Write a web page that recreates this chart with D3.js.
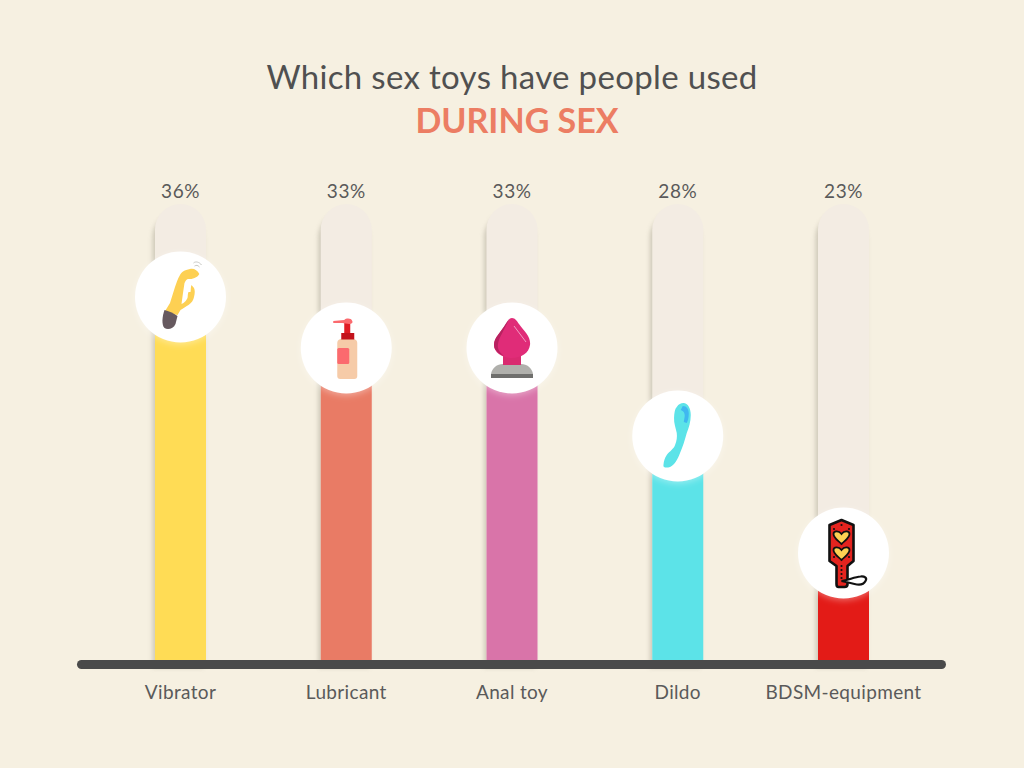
<!DOCTYPE html>
<html><head><meta charset="utf-8">
<script src="https://cdn.jsdelivr.net/npm/d3@7"></script>
<style>html,body{margin:0;padding:0;background:#f6f0e1}svg{display:block}text{font-family:Lato,sans-serif}</style>
</head><body><div id="c"></div>
<script>
const categories = ["Vibrator","Lubricant","Anal toy","Dildo","BDSM-equipment"];
const values = [36,33,33,28,23];
const barColors = ["#ffdc55","#e97b65","#d974a9","#5ce3e8","#e31b17"];
const iconNames = ["vibrator","lube","plug","dildo","paddle"];
// The source graphic is not linear in value: fill tops follow these anchor pairs.
const scaleValues = [23,28,33,36];
const scaleTops = [553,436,348,297];

const W=1024,H=768,base=660,trackTop=204,bw=51,r=45.5;
const svg=d3.select("#c").append("svg").attr("width",W).attr("height",H);
svg.append("rect").attr("width",W).attr("height",H).attr("fill","#f6f0e1");
const defs=svg.append("defs");
const sf=defs.append("filter").attr("id","ts").attr("x","-30%").attr("y","-10%").attr("width","160%").attr("height","120%");
sf.append("feGaussianBlur").attr("stdDeviation",2);
const cf=defs.append("filter").attr("id","cs").attr("x","-20%").attr("y","-20%").attr("width","140%").attr("height","140%");
cf.append("feDropShadow").attr("dx",0).attr("dy",2).attr("stdDeviation",3).attr("flood-color","#fff").attr("flood-opacity",.35);

const x=d3.scalePoint().domain(categories).range([180.5,843.5]);
const y=d3.scaleLinear().domain(scaleValues).range(scaleTops);

svg.append("text").attr("x",512).attr("y",89).attr("text-anchor","middle").attr("font-size",33).attr("letter-spacing",.33).attr("fill","#505050").text("Which sex toys have people used");
svg.append("text").attr("x",517).attr("y",133).attr("text-anchor","middle").attr("font-size",34).attr("font-weight",700).attr("fill","#ec7d63").text("DURING SEX");

const icons={
 vibrator(g){
  g.append("path").attr("fill","#fdd053").attr("d","M18.8,-23 C17,-27 13,-29 9.5,-28 C4,-27 1,-25 -0.5,-22 C-3,-18 -4,-14 -5.5,-10 L-10.5,6 L-16,15 L-3,18 L0,13 C3,11 5,10 8,8 C11,6 13,3 13.5,0 C14.5,-4 14.5,-7 13.5,-9 L11,-12 C10,-10 10.5,-7 10,-5 L8,-5 C7,-3 7.5,-1 7,1 C6,3 4.5,5 3,6 L1,7 L2.5,-4 L4,-14 C5,-16 6,-18 8,-18 C10,-18 12,-18 14,-19 C16,-20 18,-21 18.8,-23Z");
  g.append("path").attr("fill","#66595f").attr("d","M-16,13 C-12,14 -7,16 -3,19 L-5,27 C-7,32 -13,33 -16,31 C-19,28 -18.5,20 -16,13Z");
  g.append("path").attr("fill","none").attr("stroke","#c8c8c4").attr("stroke-width",1).attr("d","M13,-34 C15,-36 19,-35 21,-32 M14,-31 C16,-32 17,-32 19,-30");
 },
 lube(g){
  g.append("path").attr("fill","#f6cba8").attr("d","M-6,-9 Q-9,-8 -9,-5 L-9,28 Q-9,31 -6,31 L8,31 Q11,31 11,28 L11,-5 Q11,-8 8,-9Z");
  g.append("rect").attr("x",-9).attr("y",0).attr("width",12).attr("height",16).attr("rx",1.5).attr("fill","#fb6a6e");
  g.append("rect").attr("x",-5).attr("y",-15).attr("width",13).attr("height",6.5).attr("fill","#c3121b");
  g.append("rect").attr("x",-2).attr("y",-25).attr("width",6).attr("height",10).attr("fill","#e01b23");
  g.append("path").attr("fill","#fb6a6e").attr("d","M-13,-27 L-2,-28 C0,-30 5,-30 6,-27 C7,-25 5,-24 3,-24 L-4,-25 L-13,-25Z");
 },
 plug(g){
  g.append("path").attr("fill","#b0b0ac").attr("d","M-21,26 C-20,20 -15,16 -9,16 L9,16 C15,16 20,20 21,26Z");
  g.append("rect").attr("x",-21).attr("y",26).attr("width",42).attr("height",4).attr("fill","#6f6f6d");
  g.append("rect").attr("x",-9).attr("y",7).attr("width",18).attr("height",10).attr("fill","#d92a70");
  g.append("path").attr("fill","#e02c78").attr("d","M0,-30 C3,-30 5,-27 7,-24 C13,-16 19,-11 18,-3 C17,5 9,10 0,10 C-9,10 -18,5 -18,-3 C-18,-11 -10,-17 -6,-24 C-4,-27 -3,-30 0,-30Z");
  g.append("path").attr("fill","#b82260").attr("d","M-3,-29 C-6,-25 -10,-18 -14,-13 C-18,-8 -19,-3 -17,1 C-14,5 -11,7 -8,8 C-12,5 -15,1 -14,-4 C-13,-11 -8,-17 -3,-29Z");
  g.append("path").attr("fill","none").attr("stroke","#f39ac0").attr("stroke-width",1).attr("d","M2,-22 L14,-6");
 },
 dildo(g){
  g.append("path").attr("fill","#5ce3e8").attr("d","M5.7,-33 C10,-33 13,-28 13,-21 C13,-14 11,-8 9,-3 C7,4 5,11 2.3,17 C0,23 -3,29 -7.7,31 C-11,32 -15,32 -14.3,29 C-14,25 -13,22 -11,19 C-8,15 -4,13 -2.7,9 C-1,5 -0.5,1 -1,-3 C-2,-8 -4,-13 -3.7,-18 C-3.5,-23 -3,-27 -1,-29 C1,-32 3,-33 5.7,-33Z");
  g.append("path").attr("fill","#3fb7f0").attr("d","M5,-30 C9,-30 11,-27 11,-22 C11,-18 10,-15 9,-13 L6,-14 L7,-20 C7,-23 6,-25 3,-26Z");
 },
 paddle(g){
  g.append("path").attr("fill","#e4241f").attr("stroke","#111").attr("stroke-width",2.6).attr("stroke-linejoin","round").attr("d","M-2,-33 L10,-28 L10,8 L4,13 L4,31 Q4,34 1,34 L-5,34 Q-7,34 -7,31 L-7,13 L-14,8 L-14,-28Z");
  const hp="M0,7 C-4,3 -8,1 -8,-3 C-8,-6 -3,-7 0,-3 C3,-7 8,-6 8,-3 C8,1 4,3 0,7Z";
  [[-2,-16],[-2,0]].forEach(([a,b])=>g.append("path").attr("d",hp).attr("transform",`translate(${a},${b})`).attr("fill","#fdd053").attr("stroke","#111").attr("stroke-width",1.8));
  [[-9.5,-24],[5.5,-24],[-2,-28],[-9.5,4],[5.5,4],[-2,13],[-2,17],[-2,21],[-2,25]].forEach(([a,b])=>g.append("circle").attr("cx",a).attr("cy",b).attr("r",1.1).attr("fill","#111"));
  g.append("path").attr("fill","#fff").attr("stroke","#111").attr("stroke-width",2.2).attr("d","M-2,28 C5,27 11,24 17,23.5 C21,23 24,25 22,28 C20,32 15,32 11,31 C7,30 3,29 -2,28Z");
 }
};

const groups=svg.selectAll("g.bar").data(categories).join("g").attr("class","bar");
const topArc=(l)=>`M${l},${base}V${trackTop+bw/2}a${bw/2},${bw/2} 0 0 1 ${bw},0V${base}Z`;
groups.append("path").attr("fill","#a8a393").attr("opacity",.5).attr("filter","url(#ts)").attr("d",d=>topArc(x(d)-bw/2-2.5)).attr("transform","translate(0,8)").attr("clip-path",null);
groups.append("path").attr("fill","#f3ece3").attr("d",d=>topArc(x(d)-bw/2));
groups.append("rect").attr("x",d=>x(d)-bw/2).attr("width",bw)
 .attr("y",(d,i)=>y(values[i])).attr("height",(d,i)=>base-y(values[i])).attr("fill",(d,i)=>barColors[i]);
groups.append("circle").attr("cx",d=>x(d)).attr("cy",(d,i)=>y(values[i])).attr("r",r).attr("fill","#fff").attr("filter","url(#cs)");
groups.each(function(d,i){
  const g=d3.select(this).append("g").attr("transform",`translate(${x(d)},${y(values[i])})`);
  icons[iconNames[i]](g);
});
groups.append("text").attr("x",d=>x(d)).attr("y",197.5).attr("text-anchor","middle").attr("font-size",19).attr("letter-spacing",.5).attr("fill","#5a5a5a").text((d,i)=>values[i]+"%");
groups.append("text").attr("x",d=>x(d)).attr("y",698.5).attr("text-anchor","middle").attr("font-size",19).attr("letter-spacing",.35).attr("fill","#5a5a5a").text(d=>d);

svg.append("rect").attr("x",77).attr("y",660).attr("width",869).attr("height",9).attr("rx",4.5).attr("fill","#4a4a4a");
</script></body></html>
